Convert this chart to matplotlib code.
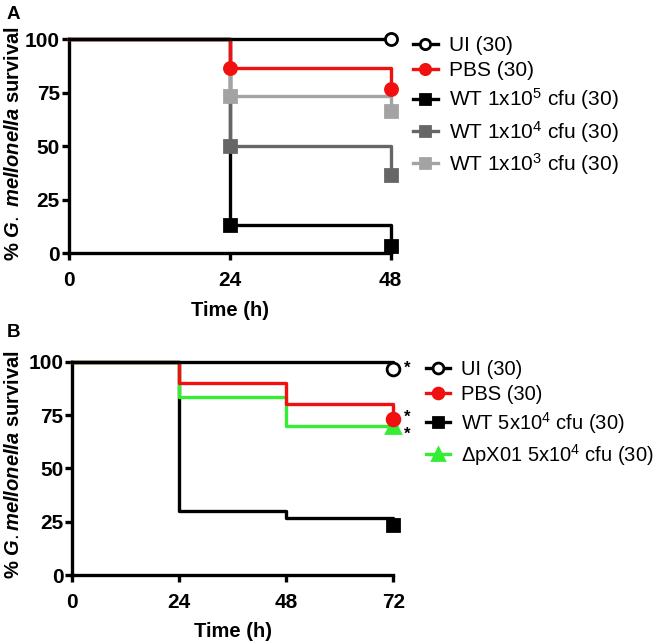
import matplotlib
matplotlib.use("Agg")
import matplotlib.pyplot as plt
from matplotlib.lines import Line2D

plt.rcParams['font.family'] = ['Liberation Sans', 'DejaVu Sans']
plt.rcParams['mathtext.fontset'] = 'custom'
plt.rcParams['mathtext.rm'] = 'Liberation Sans'
plt.rcParams['mathtext.it'] = 'Liberation Sans:italic:bold'
plt.rcParams['mathtext.bf'] = 'Liberation Sans:bold'
plt.rcParams['mathtext.default'] = 'regular'

# ---------------- Panel A data ----------------
a_times = [0, 24, 48]
a_labels = ["UI (30)", "PBS (30)", "WT 1x10$^{5}$ cfu (30)",
            "WT 1x10$^{4}$ cfu (30)", "WT 1x10$^{3}$ cfu (30)"]
a_ui = [100, 100, 100]
a_pbs = [100, 86.7, 76.7]
a_wt5 = [100, 13.3, 3.3]
a_wt4 = [100, 50.0, 36.7]
a_wt3 = [100, 73.3, 66.7]
a_xticks = [0, 24, 48]

# ---------------- Panel B data ----------------
b_times = [0, 24, 48, 72]
b_labels = ["UI (30)", "PBS (30)", "WT 5x10$^{4}$ cfu (30)",
            "\u0394pX01 5x10$^{4}$ cfu (30)"]
b_ui = [100, 100, 100, 96.7]
b_pbs = [100, 90.0, 80.0, 73.3]
b_wt = [100, 30.0, 26.7, 23.3]
b_dp = [100, 83.3, 70.0, 70.0]
b_xticks = [0, 24, 48, 72]
b_star_y = [96.7, 74.0, 66.0]
yticks = [0, 25, 50, 75, 100]

RED = '#f01010'
DGREY = '#666666'
LGREY = '#a3a3a3'
GREEN = '#33ee33'
LW = 2.4
MS = 8.7

fig = plt.figure(figsize=(6.61, 6.44), dpi=100)
axA = fig.add_axes([0.1044, 0.6067, 0.4867, 0.3323])
axB = fig.add_axes([0.1094, 0.1071, 0.4856, 0.3313])


def style(ax, xticks, ylabel, lab_xy):
    ax.set_xlim(0, xticks[-1])
    ax.set_ylim(0, 100)
    ax.set_xticks(xticks)
    ax.set_yticks(yticks)
    for s in ['top', 'right']:
        ax.spines[s].set_visible(False)
    for s in ['left', 'bottom']:
        ax.spines[s].set_linewidth(LW)
    ax.tick_params(width=LW, length=5, labelsize=15)
    ax.tick_params(axis='y', pad=1.5)
    ax.tick_params(axis='x', pad=8)
    for lab in ax.get_xticklabels() + ax.get_yticklabels():
        lab.set_fontweight('bold')
    ax.set_xlabel('Time (h)', fontsize=14.5, fontweight='bold', labelpad=7.5)
    ax.set_ylabel(ylabel, fontsize=14.5, fontweight='bold', va='center')
    ax.yaxis.set_label_coords(*lab_xy)


def series(ax, t, v, color, marker, mfc, z, all_marks=True, ms=MS):
    ax.step(t, v, where='post', color=color, lw=LW, zorder=z, clip_on=False)
    if all_marks and not all(x == v[0] for x in v):
        tt, vv = t[1:], v[1:]
    else:
        tt, vv = [t[-1]], [v[-1]]
    ax.plot(tt, vv, linestyle='none', marker=marker, color=color, mfc=mfc,
            mec=color, mew=2, ms=ms, zorder=z + 0.5, clip_on=False)
    return Line2D([0], [0], color=color, lw=LW, marker=marker, mfc=mfc,
                  mec=color, mew=2, ms=ms * 0.85)


legkw = dict(loc='upper left', frameon=False, handlelength=1.2,
             handletextpad=0.55, borderaxespad=0, labelspacing=0.3)

# Panel A
hA = [None] * 5
hA[2] = series(axA, a_times, a_wt5, 'black', 's', 'black', 3)
hA[3] = series(axA, a_times, a_wt4, DGREY, 's', DGREY, 4)
hA[4] = series(axA, a_times, a_wt3, LGREY, 's', LGREY, 5)
hA[1] = series(axA, a_times, a_pbs, RED, 'o', RED, 6)
hA[0] = series(axA, a_times, a_ui, 'black', 'o', 'white', 7)
style(axA, a_xticks, '% $\\it{G.\\ mellonella}$ survival', (-0.1725, 0.515))
fig.legend(hA, a_labels, bbox_to_anchor=(0.612, 0.957), fontsize=15, **legkw)

# Panel B
hB = [None] * 4
hB[2] = series(axB, b_times, b_wt, 'black', 's', 'black', 3, all_marks=False)
hB[3] = series(axB, b_times, b_dp, GREEN, '^', GREEN, 4, all_marks=False, ms=MS + 1)
hB[1] = series(axB, b_times, b_pbs, RED, 'o', RED, 5, all_marks=False, ms=MS + 0.5)
hB[0] = series(axB, b_times, b_ui, 'black', 'o', 'white', 6, all_marks=False, ms=MS + 0.5)
style(axB, b_xticks, '% $\\it{G.mellonella}$ survival', (-0.183, 0.52))
for val in b_star_y:
    axB.annotate('*', xy=(b_times[-1], val), xytext=(8, 0), textcoords='offset points',
                 fontsize=12, fontweight='bold', ha='left', va='center',
                 annotation_clip=False)
fig.legend(hB, b_labels, bbox_to_anchor=(0.632, 0.454), fontsize=14.5, **legkw)

fig.text(0.01, 0.99, 'A', fontsize=13.5, fontweight='bold', va='top', ha='left')
fig.text(0.01, 0.497, 'B', fontsize=13.5, fontweight='bold', va='top', ha='left')

fig.savefig('out.png', dpi=100)
